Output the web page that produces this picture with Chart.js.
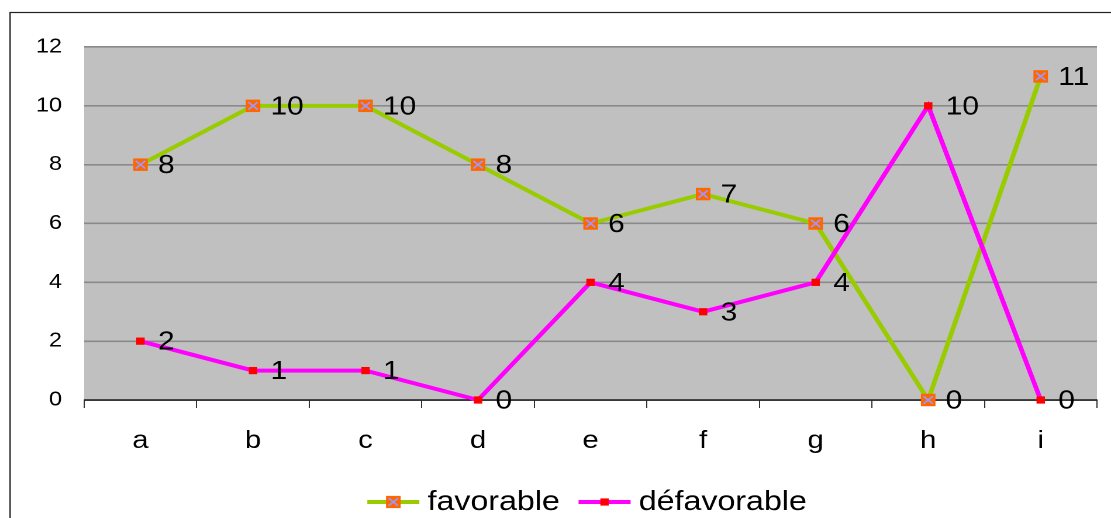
<!DOCTYPE html>
<html>
<head>
<meta charset="utf-8">
<script src="https://cdn.jsdelivr.net/npm/chart.js@4/dist/chart.umd.min.js"></script>
<style>
html,body{margin:0;padding:0;background:#fff;overflow:hidden;}
#c{display:block;width:1111px;height:518px;}
</style>
</head>
<body>
<canvas id="c" width="950" height="518" style="width:1111px;height:518px;display:block"></canvas>
<script>
const categories = ['a', 'b', 'c', 'd', 'e', 'f', 'g', 'h', 'i'];
const favorable = [8, 10, 10, 8, 6, 7, 6, 0, 11];
const defavorable = [2, 1, 1, 0, 4, 3, 4, 10, 0];
const seriesNames = ['favorable', 'défavorable'];
const yMin = 0, yMax = 12, yStep = 2;

const FONT = "'Liberation Sans', Arial, Helvetica, sans-serif";
Chart.defaults.font.family = FONT;
Chart.defaults.color = '#000';

const GREEN = '#99CC00', ORANGE = '#FF6600', LAV = '#9999FF', MAGENTA = '#FF00FF', RED = '#FF0000';

function drawFavMarker(ctx, x, y) {
  ctx.save();
  ctx.fillStyle = ORANGE;
  ctx.fillRect(x - 6.25, y - 6.1, 12.5, 12.2);
  ctx.strokeStyle = LAV;
  ctx.lineWidth = 1.6;
  ctx.beginPath();
  ctx.moveTo(x - 4, y - 3.8); ctx.lineTo(x + 4, y + 3.8);
  ctx.moveTo(x + 4, y - 3.8); ctx.lineTo(x - 4, y + 3.8);
  ctx.stroke();
  ctx.restore();
}
function drawDefMarker(ctx, x, y) {
  ctx.save();
  ctx.fillStyle = RED;
  ctx.fillRect(x - 3.6, y - 3.6, 7.2, 7.2);
  ctx.restore();
}

const bgPlugin = {
  id: 'bg',
  beforeDraw(chart) {
    const {ctx, chartArea: a, width, height} = chart;
    ctx.save();
    ctx.fillStyle = '#fff';
    ctx.fillRect(0, 0, width, height);
    ctx.fillStyle = '#C0C0C0';
    ctx.fillRect(a.left, a.top, a.right - a.left, a.bottom - a.top);
    ctx.strokeStyle = '#222';
    ctx.lineWidth = 1.2;
    ctx.strokeRect(8.6, 12.5, width + 50, height + 50);
    ctx.restore();
  }
};

const labelPlugin = {
  id: 'vlabels',
  afterDatasetsDraw(chart) {
    const ctx = chart.ctx;
    const m0 = chart.getDatasetMeta(0);
    m0.data.forEach(p => {
      ctx.save();
      ctx.strokeStyle = LAV; ctx.lineWidth = 1.6;
      ctx.beginPath();
      ctx.moveTo(p.x - 4, p.y - 3.8); ctx.lineTo(p.x + 4, p.y + 3.8);
      ctx.moveTo(p.x + 4, p.y - 3.8); ctx.lineTo(p.x - 4, p.y + 3.8);
      ctx.stroke();
      ctx.restore();
    });
    ctx.save();
    ctx.font = '25.5px ' + FONT;
    ctx.fillStyle = '#000';
    ctx.textAlign = 'left';
    ctx.textBaseline = 'middle';
    chart.data.datasets.forEach((ds, i) => {
      const meta = chart.getDatasetMeta(i);
      meta.data.forEach((p, j) => {
        ctx.fillText(String(ds.data[j]), p.x + 15, p.y + 1.5);
      });
    });
    ctx.restore();
  }
};

const legendPlugin = {
  id: 'customLegend',
  afterDraw(chart) {
    const ctx = chart.ctx;
    const a = chart.chartArea;
    ctx.save();
    ctx.font = '27.5px ' + FONT;
    const lineW = 44.5, gap = 7, itemGap = 16;
    const items = [
      {text: seriesNames[0], color: GREEN, marker: drawFavMarker},
      {text: seriesNames[1], color: MAGENTA, marker: drawDefMarker}
    ];
    let total = 0;
    items.forEach((it, i) => {
      it.w = ctx.measureText(it.text).width;
      total += lineW + gap + it.w + (i < items.length - 1 ? itemGap : 0);
    });
    let x = (a.left + a.right) / 2 - total / 2 - 3;
    const ly = 502, ty = 510;
    items.forEach(it => {
      ctx.strokeStyle = it.color;
      ctx.lineWidth = 4;
      ctx.beginPath();
      ctx.moveTo(x, ly); ctx.lineTo(x + lineW, ly);
      ctx.stroke();
      it.marker(ctx, x + lineW / 2, ly);
      ctx.fillStyle = '#000';
      ctx.textAlign = 'left';
      ctx.textBaseline = 'alphabetic';
      ctx.fillText(it.text, x + lineW + gap, ty);
      x += lineW + gap + it.w + itemGap;
    });
    ctx.restore();
  }
};

new Chart(document.getElementById('c'), {
  type: 'line',
  data: {
    labels: categories,
    datasets: [
      {
        label: seriesNames[0],
        data: favorable,
        borderColor: GREEN,
        borderWidth: 4,
        backgroundColor: ORANGE,
        pointStyle: 'rect',
        pointRadius: 8.8,
        pointHoverRadius: 8.8,
        pointBorderWidth: 0,
        pointBackgroundColor: ORANGE,
        tension: 0,
        clip: false,
        order: 1
      },
      {
        label: seriesNames[1],
        data: defavorable,
        borderColor: MAGENTA,
        borderWidth: 4,
        backgroundColor: RED,
        pointStyle: 'rect',
        pointRadius: 5.1,
        pointHoverRadius: 5.1,
        pointBorderWidth: 0,
        pointBackgroundColor: RED,
        tension: 0,
        clip: false,
        order: 0
      }
    ]
  },
  options: {
    responsive: false,
    devicePixelRatio: 2,
    animation: false,
    layout: {padding: {left: 0, right: 12, top: 47, bottom: 50}},
    plugins: {
      legend: {display: false},
      tooltip: {enabled: false},
      title: {display: false}
    },
    scales: {
      x: {
        type: 'category',
        offset: true,
        grid: {
          display: true,
          offset: true,
          drawOnChartArea: false,
          drawTicks: true,
          tickLength: 8,
          color: '#333',
          lineWidth: 1
        },
        border: {display: true, color: '#000', width: 1.2},
        ticks: {
          font: {size: 25},
          color: '#000',
          padding: 18,
          maxRotation: 0,
          autoSkip: false
        },
        afterFit(scale) { scale.height = 68; }
      },
      y: {
        min: yMin,
        max: yMax,
        grid: {
          color: '#8a8a8a',
          lineWidth: 1.6,
          drawTicks: false,
          tickLength: 0
        },
        border: {display: false},
        ticks: {
          stepSize: yStep,
          font: {size: 20},
          color: '#000',
          padding: 19
        },
        afterFit(scale) { scale.width = 72; }
      }
    }
  },
  plugins: [bgPlugin, labelPlugin, legendPlugin]
});
</script>
</body>
</html>
